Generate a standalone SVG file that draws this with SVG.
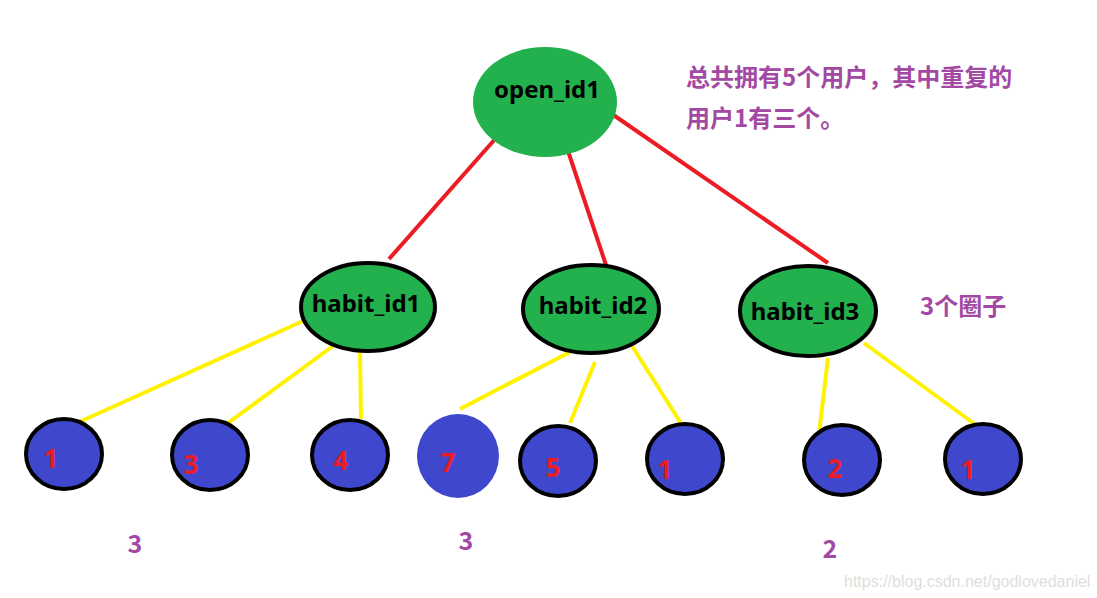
<svg xmlns="http://www.w3.org/2000/svg" width="1097" height="598" viewBox="0 0 1097 598">
<style>
.red{stroke:#ed1c24;stroke-width:4;fill:none}
.yel{stroke:#fff200;stroke-width:4;fill:none}
.g{fill:#22b14c}
.gs{fill:#22b14c;stroke:#000;stroke-width:4}
.b{fill:#3f48cc;stroke:#000;stroke-width:4}
.bn{fill:#3f48cc}
.lab{font-family:"Noto Sans","Noto Sans CJK SC",sans-serif;font-weight:bold;font-size:24px;fill:#000;text-anchor:middle}
.num{font-family:"Noto Sans","Noto Sans CJK SC",sans-serif;font-weight:bold;font-size:26px;fill:#ed1c24;text-anchor:middle}
.pur{font-family:"Noto Sans CJK SC",sans-serif;font-weight:bold;font-size:24px;fill:#a349a4}
.pn{font-family:"Noto Sans CJK SC",sans-serif;font-weight:bold;font-size:25px;fill:#a349a4;text-anchor:middle}
.wm{font-family:"Liberation Sans",sans-serif;font-size:16px;fill:#dedede}
</style>
<rect width="1097" height="598" fill="#fff"/>
<g id="connectors">
<line class="red" x1="496" y1="138" x2="389" y2="259"/>
<line class="red" x1="567" y1="148" x2="607" y2="268"/>
<line class="red" x1="612" y1="114" x2="828" y2="263"/>
<line class="yel" x1="303" y1="321" x2="77" y2="423"/>
<line class="yel" x1="333" y1="346" x2="228" y2="423"/>
<line class="yel" x1="360" y1="349" x2="361" y2="419"/>
<line class="yel" x1="570" y1="352" x2="460" y2="409"/>
<line class="yel" x1="595" y1="362" x2="570" y2="423"/>
<line class="yel" x1="632" y1="346" x2="684" y2="428"/>
<line class="yel" x1="828" y1="358" x2="819" y2="434"/>
<line class="yel" x1="864" y1="343" x2="980" y2="428"/>
</g>
<g id="open_id1">
<ellipse class="g" cx="545" cy="102" rx="72" ry="55"/>
<text class="lab" x="547" y="98" font-size="25">open_id1</text>
</g>
<g id="habit_id1">
<ellipse class="gs" cx="368" cy="307" rx="67" ry="44"/>
<text class="lab" x="366" y="312" font-size="21.5">habit_id1</text>
</g>
<g id="habit_id2">
<ellipse class="gs" cx="591" cy="309" rx="68" ry="44"/>
<text class="lab" x="593" y="314" font-size="24.5">habit_id2</text>
</g>
<g id="habit_id3">
<ellipse class="gs" cx="808" cy="311" rx="68" ry="45"/>
<text class="lab" x="805" y="320" font-size="24.5">habit_id3</text>
</g>
<g id="u1a"><ellipse class="b" cx="64" cy="454" rx="38" ry="35"/><text class="num" x="51" y="468">1</text></g>
<g id="u3"><ellipse class="b" cx="210" cy="455" rx="38" ry="35"/><text class="num" x="191" y="474">3</text></g>
<g id="u4"><ellipse class="b" cx="350" cy="455" rx="38" ry="35"/><text class="num" x="341" y="470">4</text></g>
<g id="u7"><ellipse class="bn" cx="458" cy="456" rx="41" ry="42"/><text class="num" x="448" y="472">7</text></g>
<g id="u5"><ellipse class="b" cx="558" cy="461" rx="38" ry="35"/><text class="num" x="553" y="477">5</text></g>
<g id="u1b"><ellipse class="b" cx="685" cy="459" rx="38" ry="35"/><text class="num" x="665" y="479">1</text></g>
<g id="u2"><ellipse class="b" cx="842" cy="460" rx="38" ry="35"/><text class="num" x="835" y="478">2</text></g>
<g id="u1c"><ellipse class="b" cx="983" cy="459" rx="38" ry="35"/><text class="num" x="968" y="479">1</text></g>
<g id="notes">
<text class="pur" x="686" y="86">总共拥有5个用户，其中重复的</text>
<text class="pur" x="686" y="127">用户1有三个。</text>
<text class="pur" x="920" y="315" font-size="22.5">3个圈子</text>
<text class="pn" x="135" y="553">3</text>
<text class="pn" x="466" y="550">3</text>
<text class="pn" x="830" y="558">2</text>
<text class="wm" x="844" y="587">https://blog.csdn.net/godlovedaniel</text>
</g>
</svg>
